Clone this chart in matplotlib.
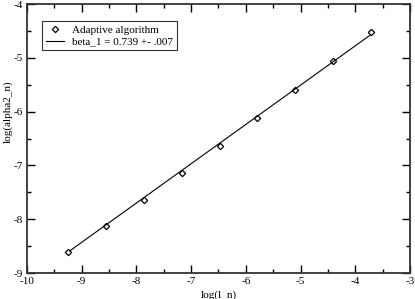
import numpy as np
import matplotlib
matplotlib.use("Agg")
import matplotlib.pyplot as plt
from matplotlib.ticker import MultipleLocator

plt.rcParams["font.family"] = ["Liberation Serif", "DejaVu Serif"]
plt.rcParams["axes.unicode_minus"] = False

# Дані
log_l = [-9.25, -8.56, -7.87, -7.17, -6.48, -5.79, -5.10, -4.41, -3.71]
log_alpha = [-8.615, -8.13, -7.645, -7.15, -6.645, -6.125, -5.605, -5.065, -4.515]

# Кінці лінії апроксимації
fit_x = [-9.22, -3.73]
fit_y = [-8.59, -4.58]

fig = plt.figure(figsize=(4.15, 2.99), dpi=100)
ax = fig.add_axes([27 / 415, 1 - 273 / 299, 383 / 415, 269 / 299])

ax.plot(log_l, log_alpha, linestyle="none", marker="D", markersize=3.2,
        markerfacecolor="white", markeredgecolor="black", markeredgewidth=0.9,
        label="Adaptive algorithm")
ax.plot(fit_x, fit_y, color="black", linewidth=0.8, label="beta_1 = 0.739 +- .007")

ax.set_xlim(-10, -3)
ax.set_ylim(-9, -4)
ax.xaxis.set_major_locator(MultipleLocator(1))
ax.xaxis.set_minor_locator(MultipleLocator(0.5))
ax.yaxis.set_major_locator(MultipleLocator(1))
ax.yaxis.set_minor_locator(MultipleLocator(0.5))
ax.tick_params(which="both", direction="in", top=True, right=True, labelsize=8, pad=3)
ax.tick_params(which="major", length=6, width=1)
ax.tick_params(which="minor", length=3, width=1)
for s in ax.spines.values():
    s.set_linewidth(1.3)
    s.set_color("#333333")

ax.set_xlabel("log(l_n)", fontsize=8)
ax.set_ylabel("log(alpha2_n)", fontsize=8)
ax.xaxis.set_label_coords(0.5, -0.065)
ax.yaxis.set_label_coords(-0.038, 0.6)

leg = ax.legend(loc="upper left", bbox_to_anchor=(0.04, 0.935), fontsize=8,
                frameon=True, fancybox=False, edgecolor="black",
                handlelength=1.6, handletextpad=0.7, borderpad=0.35,
                labelspacing=0.15, borderaxespad=0)
leg.get_frame().set_linewidth(0.8)

fig.savefig("out.png", dpi=100)
